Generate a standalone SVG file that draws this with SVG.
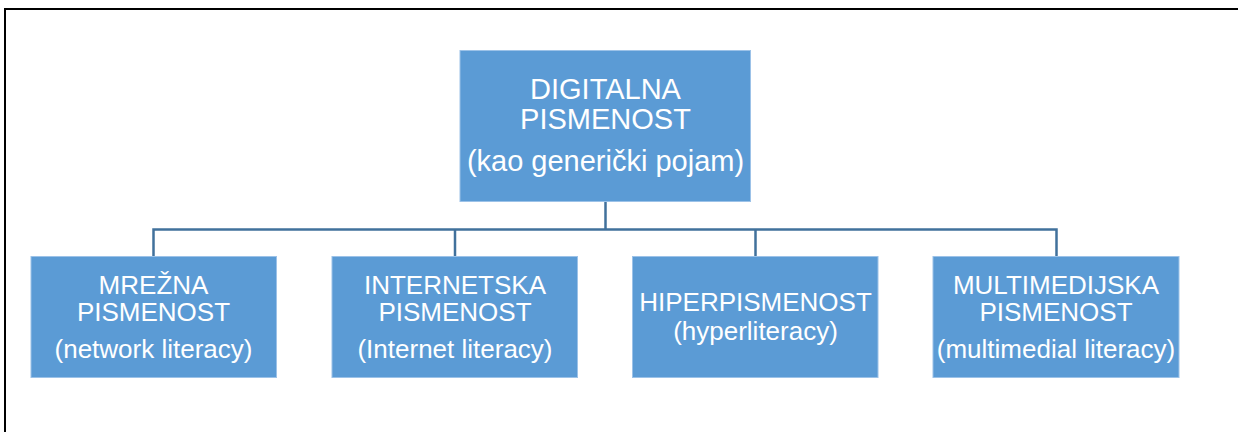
<svg xmlns="http://www.w3.org/2000/svg" width="1238" height="432" viewBox="0 0 1238 432">
<style>
.box{fill:#5B9BD5;stroke:#9CC2E8;stroke-width:1}
.t{font-family:"Liberation Sans",Arial,sans-serif;fill:#FFFFFF;text-anchor:middle}
.r{font-size:29px}
.c{font-size:26px}
.conn{fill:none;stroke:#41719C;stroke-width:2.5}
</style>
<rect x="5" y="9" width="1260" height="460" fill="none" stroke="#000000" stroke-width="2"/>
<g id="connectors">
<path class="conn" d="M605.5 202V229.5M153.5 256V229.5H1056.5V256M455 229.5V256M755.5 229.5V256"/>
</g>
<g id="root">
<rect class="box" x="460" y="50.5" width="290.5" height="151"/>
<text class="t r" x="605.5" y="98.5">DIGITALNA</text>
<text class="t r" x="605.5" y="128.5">PISMENOST</text>
<text class="t r" x="605.5" y="170.5">(kao generički pojam)</text>
</g>
<g id="mrezna">
<rect class="box" x="31" y="256.5" width="245.5" height="121"/>
<text class="t c" x="153.5" y="293.5">MREŽNA</text>
<text class="t c" x="153.5" y="321">PISMENOST</text>
<text class="t c" x="153.5" y="358">(network literacy)</text>
</g>
<g id="internetska">
<rect class="box" x="332" y="256.5" width="245.5" height="121"/>
<text class="t c" x="455" y="293.5">INTERNETSKA</text>
<text class="t c" x="455" y="321">PISMENOST</text>
<text class="t c" x="455" y="358">(Internet literacy)</text>
</g>
<g id="hiper">
<rect class="box" x="632.5" y="256.5" width="245.5" height="121"/>
<text class="t c" x="755.5" y="310.5">HIPERPISMENOST</text>
<text class="t c" x="755.5" y="339.5">(hyperliteracy)</text>
</g>
<g id="multimedijska">
<rect class="box" x="933" y="256.5" width="246" height="121"/>
<text class="t c" x="1056" y="293.5">MULTIMEDIJSKA</text>
<text class="t c" x="1056" y="321">PISMENOST</text>
<text class="t c" x="1056" y="358">(multimedial literacy)</text>
</g>
</svg>
